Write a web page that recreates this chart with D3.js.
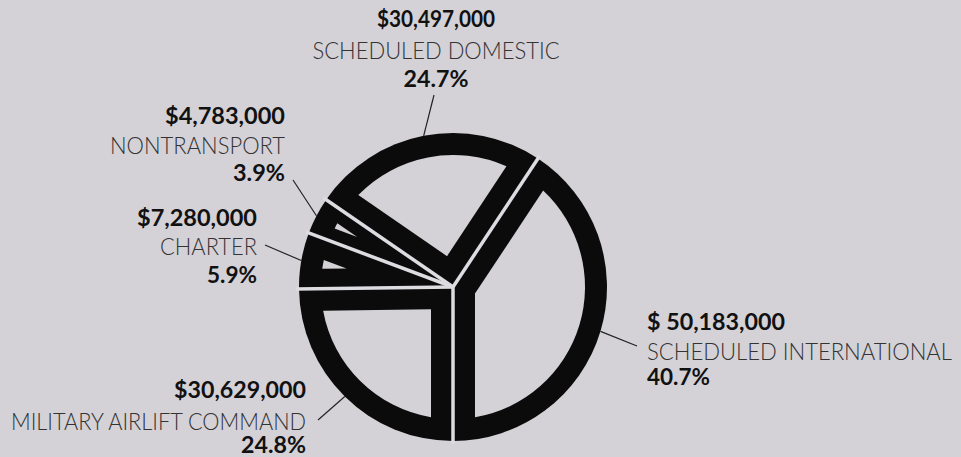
<!DOCTYPE html>
<html>
<head>
<meta charset="utf-8">
<script src="https://cdn.jsdelivr.net/npm/d3@7"></script>
<style>
  html, body { margin: 0; padding: 0; background: #d4d2d7; }
  svg { display: block; }
</style>
</head>
<body>
<svg id="chart" width="961" height="457"></svg>
<script>
// ---- data (clockwise from the upper-right boundary) ----
const categories = ["SCHEDULED INTERNATIONAL", "MILITARY AIRLIFT COMMAND", "CHARTER", "NONTRANSPORT", "SCHEDULED DOMESTIC"];
const amounts = [50183000, 30629000, 7280000, 4783000, 30497000];
const amountLabels = ["$ 50,183,000", "$30,629,000", "$7,280,000", "$4,783,000", "$30,497,000"];
const percents = [40.7, 24.8, 5.9, 3.9, 24.7];
const percentLabels = ["40.7%", "24.8%", "5.9%", "3.9%", "24.7%"];

// ---- layout ----
const W = 961, H = 457;
const cx = 453, cy = 287, R = 154;
const ringW = 22, sideW = 22;
const bg = "#d4d2d7", gapColor = "#dddce1", ink = "#0b0b0b";

const svg = d3.select("#chart");
svg.append("rect").attr("width", W).attr("height", H).attr("fill", bg);

const total = d3.sum(percents);
const start = Math.PI - percents[0] / total * 2 * Math.PI;
const pie = d3.pie().sort(null).value(d => d)
  .startAngle(start).endAngle(start + 2 * Math.PI);
const arcs = pie(percents);

const g = svg.append("g").attr("transform", `translate(${cx},${cy})`);
const arc = d3.arc().innerRadius(0).outerRadius(R);

const pt = (r, a) => [r * Math.sin(a), -r * Math.cos(a)];

// black wedges
g.selectAll("path.wedge").data(arcs).join("path")
  .attr("class", "wedge")
  .attr("d", arc)
  .attr("fill", ink);

// inner light regions
function innerPath(a0, a1) {
  const th = a1 - a0;
  const dS = Math.min(sideW, 108 * Math.sin(th / 2));
  const rIn = R - ringW;
  const vDist = dS / Math.sin(th / 2);
  const mid = (a0 + a1) / 2;
  const v = pt(vDist, mid);
  const phi = Math.asin(dS / rIn);
  const s = pt(rIn, a0 + phi), e = pt(rIn, a1 - phi);
  const large = (th - 2 * phi) > Math.PI ? 1 : 0;
  return `M${v[0]},${v[1]}L${s[0]},${s[1]}A${rIn},${rIn} 0 ${large} 1 ${e[0]},${e[1]}Z`;
}
g.selectAll("path.inner").data(arcs).join("path")
  .attr("class", "inner")
  .attr("d", d => innerPath(d.startAngle, d.endAngle))
  .attr("fill", bg);

// gaps between slices
g.selectAll("line.gap").data(arcs).join("line")
  .attr("class", "gap")
  .attr("x1", 0).attr("y1", 0)
  .attr("x2", d => pt(R + 3, d.startAngle)[0])
  .attr("y2", d => pt(R + 3, d.startAngle)[1])
  .attr("stroke", gapColor).attr("stroke-width", 3.5);

// ---- labels ----
const labelLayout = [
  { anchor: "start",  x: 647, y: [330, 360, 385], w: [138, 305, 63], lead: [637, 346] },
  { anchor: "end",    x: 306, y: [398, 430, 453], w: [132, 295, 65], lead: [318, 420] },
  { anchor: "end",    x: 257, y: [226, 255, 283], w: [120, 97, 50],  lead: [265, 245] },
  { anchor: "end",    x: 285, y: [124, 154, 181], w: [120, 175, 52], lead: [293, 180] },
  { anchor: "middle", x: 436, y: [27, 59, 87],    w: [118, 247, 65], lead: [434, 95] }
];

const lab = svg.append("g");
arcs.forEach((d, i) => {
  const L = labelLayout[i];
  const mid = (d.startAngle + d.endAngle) / 2;
  const p = pt(R, mid);
  lab.append("line")
    .attr("x1", cx + p[0]).attr("y1", cy + p[1])
    .attr("x2", L.lead[0]).attr("y2", L.lead[1])
    .attr("stroke", "#222").attr("stroke-width", 1.2);
  const texts = [amountLabels[i], categories[i], percentLabels[i]];
  texts.forEach((t, k) => {
    lab.append("text")
      .attr("x", L.x).attr("y", L.y[k]).attr("text-anchor", L.anchor)
      .attr("font-family", "Lato, 'Noto Sans', sans-serif")
      .attr("font-weight", k === 1 ? 300 : 700)
      .attr("font-size", k === 1 ? 24 : 23)
      .attr("fill", k === 1 ? "#333" : "#111")
      .attr("textLength", L.w[k])
      .attr("lengthAdjust", "spacingAndGlyphs")
      .text(t);
  });
});
</script>
</body>
</html>
